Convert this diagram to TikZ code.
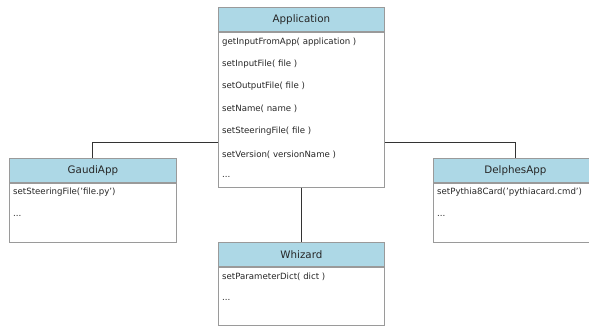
\documentclass[tikz,border=0pt]{standalone}
\usepackage{fontspec}
\setmainfont{DejaVu Sans}
\definecolor{hdrblue}{HTML}{ADD8E6}
\definecolor{bordergray}{HTML}{9A9A9A}
\tikzset{
  hdr/.style={draw=bordergray, fill=hdrblue, line width=0.8pt, inner sep=0pt, anchor=north west, minimum height=24pt, font=\fontsize{10.3}{12}\selectfont, text=black!85},
  bodybox/.style={draw=bordergray, fill=white, line width=0.8pt, inner sep=0pt, anchor=north west},
  mtext/.style={anchor=west, inner sep=0pt, font=\fontsize{8.6}{10}\selectfont, text=black!85},
  conn/.style={draw=black!80, line width=0.9pt}
}
\begin{document}
\begin{tikzpicture}[x=1pt,y=-1pt]
\useasboundingbox (0,0) rectangle (589,327);
\clip (0,0) rectangle (589,327);
\coordinate (yl) at (0,142);
% Application
\node[hdr, minimum width=166pt] (apph) at (218,7) {Application};
\node[bodybox, minimum width=166pt, minimum height=155pt] (appb) at (apph.south west) {};
\node[mtext] (a1) at (222,42) {getInputFromApp( application )};
\node[mtext] (a2) at (222,64) {setInputFile( file )};
\node[mtext] (a3) at (222,86.5) {setOutputFile( file )};
\node[mtext] (a4) at (222,109) {setName( name )};
\node[mtext] (a5) at (222,131.5) {setSteeringFile( file )};
\node[mtext] (a6) at (222,154.5) {setVersion( versionName )};
\node[mtext] (a7) at (222,177) {...};
% GaudiApp
\node[hdr, minimum width=167pt] (gh) at (9,158) {GaudiApp};
\node[bodybox, minimum width=167pt, minimum height=59pt] (gb) at (gh.south west) {};
\node[mtext] (g1) at (13,192) {setSteeringFile('file.py')};
\node[mtext] (g2) at (13,216) {...};
% DelphesApp
\node[hdr, minimum width=164pt] (dh) at (433,158) {DelphesApp};
\node[bodybox, minimum width=164pt, minimum height=59pt] (db) at (dh.south west) {};
\node[mtext] (d1) at (437,192) {setPythia8Card('pythiacard.cmd')};
\node[mtext] (d2) at (437,216) {...};
% Whizard
\node[hdr, minimum width=166pt] (wh) at (218,242) {Whizard};
\node[bodybox, minimum width=166pt, minimum height=58pt] (wb) at (wh.south west) {};
\node[mtext] (w1) at (222,277) {setParameterDict( dict )};
\node[mtext] (w2) at (222,300) {...};
% connectors
\draw[conn] (appb.west |- yl) -| (gh.north);
\draw[conn] (appb.east |- yl) -| (dh.north);
\draw[conn] (appb.south) -- (wh.north);
\end{tikzpicture}
\end{document}
